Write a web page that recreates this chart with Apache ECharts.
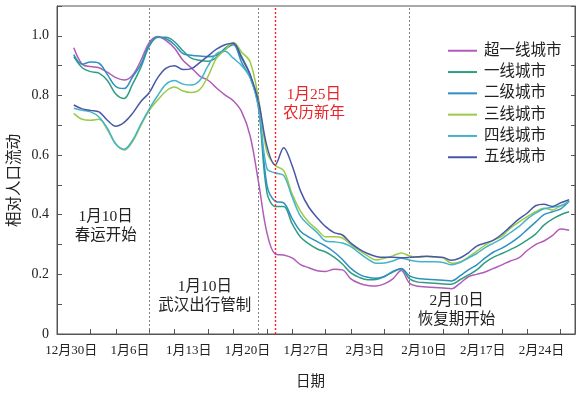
<!DOCTYPE html>
<html>
<head>
<meta charset="utf-8">
<script src="https://cdn.jsdelivr.net/npm/echarts@6/dist/echarts.min.js"></script>
<style>
html,body{margin:0;padding:0;background:#fff;}
#main{width:577px;height:394px;}
</style>
</head>
<body>
<div id="main"></div>
<script>
// Day 0 = 12月30日; the daily series start on 1月1日 (day 2) and run to 2月29日.
const firstDay = 2;

const seriesNames = ['超一线城市', '一线城市', '二级城市', '三线城市', '四线城市', '五线城市'];
const seriesColors = ['#b05cb8', '#2f9e80', '#2e8fc2', '#9bcb45', '#45b3cc', '#4858a6'];

const superTier1 = [0.96,0.905,0.897,0.893,0.878,0.86,0.852,0.868,0.918,0.978,0.998,0.984,0.958,0.918,0.893,0.865,0.851,0.825,0.802,0.782,0.745,0.665,0.51,0.34,0.268,0.265,0.255,0.233,0.222,0.212,0.21,0.217,0.215,0.185,0.17,0.163,0.161,0.168,0.185,0.213,0.17,0.16,0.158,0.156,0.154,0.152,0.17,0.192,0.2,0.208,0.22,0.232,0.245,0.255,0.28,0.3,0.312,0.33,0.352,0.348];
const tier1 = [0.93,0.893,0.88,0.875,0.85,0.805,0.79,0.838,0.895,0.965,0.995,0.995,0.98,0.95,0.925,0.918,0.915,0.928,0.958,0.975,0.93,0.87,0.76,0.475,0.428,0.428,0.37,0.325,0.302,0.285,0.275,0.258,0.235,0.205,0.19,0.182,0.183,0.193,0.208,0.218,0.185,0.174,0.172,0.17,0.168,0.167,0.182,0.198,0.215,0.24,0.258,0.27,0.283,0.297,0.315,0.335,0.365,0.385,0.4,0.41];
const tier2 = [0.937,0.905,0.912,0.908,0.87,0.83,0.823,0.862,0.905,0.97,0.995,0.99,0.97,0.94,0.935,0.932,0.93,0.935,0.955,0.97,0.91,0.86,0.77,0.5,0.445,0.44,0.388,0.345,0.325,0.31,0.295,0.275,0.25,0.22,0.2,0.19,0.187,0.193,0.21,0.22,0.195,0.186,0.184,0.182,0.18,0.178,0.195,0.215,0.232,0.255,0.275,0.288,0.305,0.325,0.35,0.375,0.4,0.41,0.42,0.445];
const tier3 = [0.74,0.72,0.717,0.72,0.685,0.637,0.617,0.645,0.7,0.75,0.785,0.815,0.828,0.815,0.81,0.82,0.865,0.925,0.952,0.978,0.945,0.913,0.79,0.61,0.565,0.548,0.47,0.412,0.375,0.35,0.326,0.326,0.322,0.3,0.28,0.262,0.248,0.254,0.262,0.272,0.262,0.257,0.26,0.258,0.255,0.237,0.242,0.258,0.278,0.298,0.315,0.328,0.355,0.375,0.393,0.41,0.422,0.416,0.43,0.445];
const tier4 = [0.757,0.75,0.745,0.728,0.69,0.637,0.62,0.65,0.705,0.755,0.8,0.838,0.85,0.838,0.835,0.85,0.9,0.94,0.948,0.925,0.9,0.86,0.76,0.555,0.54,0.532,0.46,0.395,0.365,0.34,0.312,0.309,0.305,0.293,0.272,0.252,0.237,0.238,0.245,0.254,0.248,0.243,0.242,0.242,0.24,0.232,0.24,0.255,0.27,0.29,0.305,0.32,0.34,0.36,0.385,0.405,0.42,0.425,0.43,0.445];
const tier5 = [0.768,0.755,0.75,0.745,0.717,0.697,0.71,0.74,0.78,0.81,0.86,0.892,0.9,0.887,0.89,0.91,0.933,0.955,0.97,0.975,0.925,0.87,0.78,0.63,0.567,0.625,0.565,0.48,0.425,0.39,0.36,0.34,0.332,0.305,0.285,0.27,0.26,0.257,0.257,0.256,0.257,0.259,0.261,0.259,0.257,0.247,0.255,0.272,0.295,0.305,0.315,0.335,0.36,0.385,0.405,0.43,0.435,0.428,0.44,0.45];
const seriesValues = [superTier1, tier1, tier2, tier3, tier4, tier5];

// Weekly date labels and the tick marks along the date axis
const weekLabels = ['12月30日','1月6日','1月13日','1月20日','1月27日','2月3日','2月10日','2月17日','2月24日'];
const weekLabelDays = [0,7,14,21,28,35,42,49,56];
const tickDays = [4,7,11,14,18,21,25,28,32,35,39,42,46,49,53,56,60];
const labelShift = 1.7; // date labels sit slightly right of their tick

// Key dates marked with dotted lines
const grayEventDays = [11, 24, 42];
const redEventDays = [26];

// Text notes, anchored in data space [day, value]
const notes = [
  { text: '1月10日\n春运开始', at: [5.8, 0.36], color: '#222' },
  { text: '1月10日\n武汉出行管制', at: [17.6, 0.126], color: '#222' },
  { text: '1月25日\n农历新年', at: [30.6, 0.771], color: '#e8262a' },
  { text: '2月10日\n恢复期开始', at: [47.6, 0.08], color: '#222' }
];

const serifFont = '"Liberation Serif", "Noto Sans CJK SC", serif';
const cjkFont = '"Liberation Serif", "Noto Sans CJK SC", sans-serif';

const chart = echarts.init(document.getElementById('main'), null, { renderer: 'canvas' });

const series = seriesNames.map((name, k) => ({
  name: name,
  type: 'line',
  smooth: 0.35,
  showSymbol: false,
  symbol: 'none',
  color: seriesColors[k],
  lineStyle: { width: 1.5, color: seriesColors[k] },
  itemStyle: { color: seriesColors[k] },
  data: seriesValues[k].map((v, i) => [firstDay + i, v]),
  z: 3
}));

function eventLines(days, color, width) {
  return {
    silent: true,
    symbol: ['none', 'none'],
    label: { show: false },
    animation: false,
    lineStyle: { color: color, type: [2, 2], width: width, opacity: 1 },
    emphasis: { disabled: true },
    data: days.map(d => ({ xAxis: d, lineStyle: { color: color, type: [2, 2], width: width, opacity: 1 } }))
  };
}
series[0].markLine = eventLines(grayEventDays, '#808080', 1);
series[1].markLine = eventLines(redEventDays, '#ff2020', 1.4);

const option = {
  animation: false,
  backgroundColor: '#fff',
  grid: { left: 57, right: 2, top: 6, bottom: 60, show: true, borderColor: '#555', borderWidth: 1, backgroundColor: 'transparent' },
  legend: {
    orient: 'vertical',
    left: 443,
    top: 38,
    itemWidth: 29,
    itemHeight: 2,
    itemGap: 5.8,
    icon: 'rect',
    data: seriesNames,
    textStyle: { fontSize: 15.5, lineHeight: 15, color: '#222', fontFamily: cjkFont, padding: [0, 0, 0, 2] }
  },
  xAxis: [{
    type: 'value',
    min: 0,
    max: 61.7,
    position: 'bottom',
    axisLine: { show: true, onZero: false, lineStyle: { color: '#555', width: 1 } },
    axisTick: { show: true, inside: true, length: 5, customValues: tickDays, lineStyle: { color: '#555' } },
    axisLabel: {
      customValues: weekLabelDays.map(d => d + labelShift),
      formatter: v => weekLabels[Math.round((v - labelShift) / 7)] || '',
      fontSize: 13,
      color: '#222',
      fontFamily: cjkFont,
      margin: 10
    },
    splitLine: { show: false }
  }],
  yAxis: [{
    type: 'value',
    min: 0,
    max: 1.1,
    interval: 0.1,
    axisLine: { show: true, lineStyle: { color: '#555', width: 1 } },
    axisTick: { show: true, inside: true, length: 5, lineStyle: { color: '#555' } },
    axisLabel: {
      fontSize: 14,
      color: '#222',
      fontFamily: serifFont,
      margin: 8,
      formatter: v => {
        const t = Math.round(v * 10);
        if (t % 2 !== 0 || t > 10) return '';
        return t === 0 ? '0' : (t / 10).toFixed(1);
      }
    },
    splitLine: { show: false }
  }, {
    type: 'value',
    min: 0,
    max: 1.1,
    interval: 0.1,
    position: 'right',
    axisLine: { show: true, lineStyle: { color: '#555', width: 1 } },
    axisTick: { show: true, inside: true, length: 4, lineStyle: { color: '#555' } },
    axisLabel: { show: false },
    splitLine: { show: false }
  }],
  series: series
};

chart.setOption(option);

// Notes and axis titles
const graphics = notes.map(n => {
  const p = chart.convertToPixel({ xAxisIndex: 0, yAxisIndex: 0 }, n.at);
  return {
    type: 'text',
    x: p[0],
    y: p[1],
    style: {
      text: n.text,
      fill: n.color,
      fontSize: 15.5,
      lineHeight: 19,
      fontFamily: cjkFont,
      align: 'center',
      verticalAlign: 'middle'
    },
    z: 10
  };
});

const yTitlePos = chart.convertToPixel({ xAxisIndex: 0, yAxisIndex: 0 }, [0, 0.515]);
graphics.push({
  type: 'text',
  x: 15,
  y: yTitlePos[1],
  rotation: Math.PI / 2,
  style: { text: '相对人口流动', fill: '#222', fontSize: 15.5, fontFamily: cjkFont, align: 'center', verticalAlign: 'middle' }
});
const xTitlePos = chart.convertToPixel({ xAxisIndex: 0, yAxisIndex: 0 }, [30.2, 0]);
graphics.push({
  type: 'text',
  x: xTitlePos[0],
  y: 382,
  style: { text: '日期', fill: '#222', fontSize: 14.5, fontFamily: cjkFont, align: 'center', verticalAlign: 'middle' }
});

chart.setOption({ graphic: graphics });
</script>
</body>
</html>
